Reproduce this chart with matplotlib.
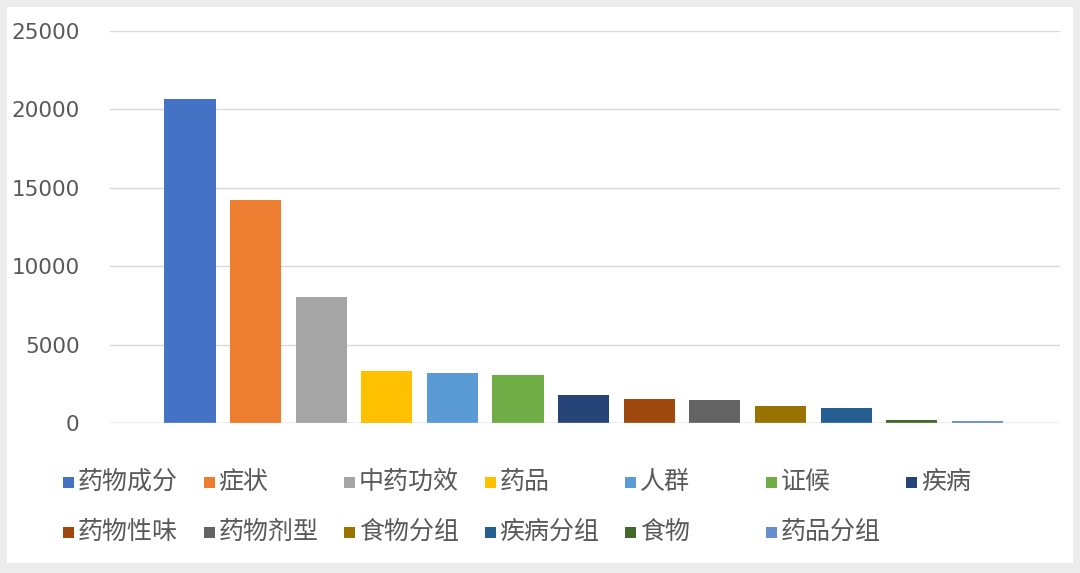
import matplotlib
matplotlib.use('Agg')
import matplotlib.pyplot as plt
from matplotlib.patches import Rectangle

plt.rcParams['font.family'] = ['Noto Sans CJK SC', 'DejaVu Sans']

# data
categories = ['药物成分', '症状', '中药功效', '药品', '人群', '证候', '疾病',
              '药物性味', '药物剂型', '食物分组', '疾病分组', '食物', '药品分组']
counts = [20650, 14230, 8030, 3300, 3200, 3080, 1800,
          1560, 1440, 1100, 950, 160, 130]
colors = ['#4472C4', '#ED7D31', '#A5A5A5', '#FFC000', '#5B9BD5', '#70AD47', '#264478',
          '#9E480E', '#636363', '#997300', '#255E91', '#43682B', '#698ED0']
yticks = [0, 5000, 10000, 15000, 20000, 25000]

W, H = 1080, 573
fig = plt.figure(figsize=(W / 100, H / 100), dpi=100)
fig.patch.set_facecolor('#ececec')
# white panel, behind everything
fig.patches.append(Rectangle((7 / W, 1 - 563 / H), (1073 - 7) / W, (563 - 7) / H,
                             transform=fig.transFigure, facecolor='white',
                             edgecolor='none', zorder=-10))

ax = fig.add_axes([110 / W, 1 - 423 / H, (1060 - 110) / W, (423 - 31) / H])
ax.set_facecolor('none')

x = list(range(len(categories)))
ax.bar(x, counts, width=0.78, color=colors, zorder=3)

ax.set_xlim(-1.22, 13.26)
ax.set_ylim(0, 25000)
ax.set_yticks(yticks)
ax.set_yticklabels([str(v) for v in yticks], fontsize=15.5, color='#595959',
                   family='DejaVu Sans')
ax.tick_params(axis='y', length=0, pad=22)
ax.set_xticks([])
ax.grid(axis='y', color='#d9d9d9', linewidth=1.0, zorder=0)
for s in ax.spines.values():
    s.set_visible(False)
ax.axhline(0, color='#d0d0d0', linewidth=1.0, zorder=4)

# legend laid out like the Excel one: 7 equal columns, 2 rows
col_x0, col_step = 63, 140.5
row_y = [482, 532]
for i, (name, c) in enumerate(zip(categories, colors)):
    r, k = divmod(i, 7)
    mx = col_x0 + k * col_step
    my = row_y[r]
    fig.patches.append(Rectangle((mx / W, 1 - (my + 5.5) / H), 11 / W, 11 / H,
                                 transform=fig.transFigure, facecolor=c,
                                 edgecolor='none', zorder=2))
    fig.text((mx + 15) / W, 1 - my / H, name, fontsize=18, color='#595959',
             va='center', ha='left')

fig.savefig('out.png', dpi=100, facecolor=fig.get_facecolor())
